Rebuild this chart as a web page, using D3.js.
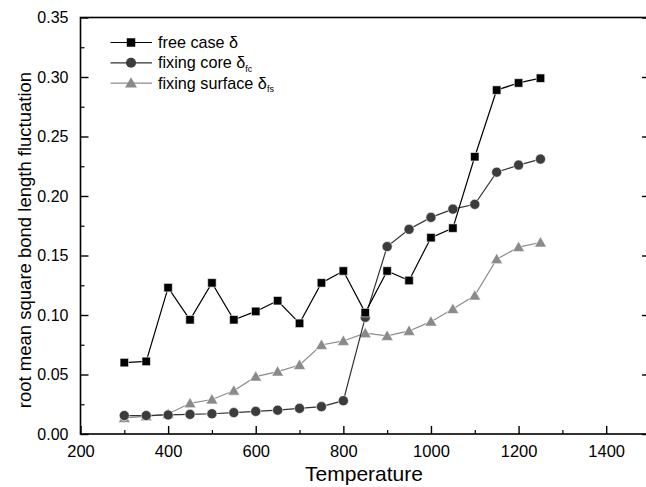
<!DOCTYPE html>
<html><head><meta charset="utf-8">
<script src="https://cdn.jsdelivr.net/npm/d3@7"></script>
<style>body{margin:0;background:#fff}svg{display:block;font-family:"Liberation Sans",Arial,sans-serif}</style>
</head><body><svg id="c" width="646" height="487"></svg>
<script>
const temps = [300,350,400,450,500,550,600,650,700,750,800,850,900,950,1000,1050,1100,1150,1200,1250];
const freeCase = [0.060,0.061,0.123,0.096,0.127,0.096,0.103,0.112,0.093,0.127,0.137,0.102,0.137,0.129,0.165,0.173,0.233,0.289,0.295,0.299];
const fixCore = [0.0155,0.0155,0.016,0.0165,0.017,0.018,0.019,0.020,0.0215,0.023,0.028,0.098,0.1575,0.172,0.182,0.189,0.193,0.220,0.226,0.231];
const fixSurf = [0.0135,0.0148,0.0168,0.0258,0.029,0.0364,0.0482,0.0524,0.058,0.0748,0.0782,0.0847,0.0824,0.0866,0.0944,0.105,0.1163,0.1469,0.157,0.1609];
const xTicks = [200,400,600,800,1000,1200,1400];
const yTicks = [0,0.05,0.10,0.15,0.20,0.25,0.30,0.35];

const svg = d3.select("#c");
const L=80.5, R=650, T=17.5, B=434;
const x = d3.scaleLinear().domain([200,1500]).range([L,R]);
const y = d3.scaleLinear().domain([0,0.35]).range([B,T]);

svg.append("rect").attr("x",L).attr("y",T).attr("width",R-L).attr("height",B-T)
  .attr("fill","none").attr("stroke","#000").attr("stroke-width",1.6);

const xa = svg.append("g").attr("transform",`translate(0,${B})`)
  .call(d3.axisBottom(x).tickValues(xTicks).tickSize(-8).tickPadding(11).tickFormat(d3.format("d")));
xa.select(".domain").remove();
xa.selectAll("line").attr("stroke-width",1.4);
xa.selectAll("text").attr("font-size",16.5).attr("fill","#000");
svg.append("g").attr("transform",`translate(0,${B})`)
  .call(d3.axisBottom(x).tickValues(d3.range(300,1500,200)).tickSize(-4).tickFormat(""))
  .call(g=>g.select(".domain").remove()).selectAll("line").attr("stroke-width",1.2);

const ya = svg.append("g").attr("transform",`translate(${L},0)`)
  .call(d3.axisLeft(y).tickValues(yTicks).tickSize(-8).tickPadding(12).tickFormat(d3.format(".2f")));
ya.select(".domain").remove();
ya.selectAll("line").attr("stroke-width",1.4);
ya.selectAll("text").attr("font-size",16).attr("fill","#000");
svg.append("g").attr("transform",`translate(${L},0)`)
  .call(d3.axisLeft(y).tickValues(d3.range(0.025,0.35,0.05)).tickSize(-4).tickFormat(""))
  .call(g=>g.select(".domain").remove()).selectAll("line").attr("stroke-width",1.2);

svg.append("g").attr("transform",`translate(${R},0)`)
  .call(d3.axisRight(y).tickValues(yTicks).tickSize(-8).tickFormat(""))
  .call(g=>g.select(".domain").remove()).selectAll("line").attr("stroke-width",1.4);
svg.append("g").attr("transform",`translate(${R},0)`)
  .call(d3.axisRight(y).tickValues(d3.range(0.025,0.35,0.05)).tickSize(-4).tickFormat(""))
  .call(g=>g.select(".domain").remove()).selectAll("line").attr("stroke-width",1.2);

svg.append("text").attr("x",364).attr("y",481).attr("text-anchor","middle")
  .attr("font-size",21).text("Temperature");
svg.append("text").attr("transform",`translate(31,240) rotate(-90)`).attr("text-anchor","middle")
  .attr("font-size",18.5).text("root mean square bond length fluctuation");

const series = [
  {name:"free case δ", sub:"", vals:freeCase, line:"#000", fill:"#000", shape:d3.symbolSquare, size:72},
  {name:"fixing core δ", sub:"fc", vals:fixCore, line:"#333", fill:"#3c3c3c", shape:d3.symbolCircle, size:80},
  {name:"fixing surface δ", sub:"fs", vals:fixSurf, line:"#8c8c8c", fill:"#8a8a8a", shape:d3.symbolTriangle, size:62}
];

const line = d3.line().x(d=>x(d[0])).y(d=>y(d[1]));
[2,1,0].forEach(i=>{
  const s = series[i];
  const pts = temps.map((t,j)=>[t,s.vals[j]]);
  svg.append("path").attr("d",line(pts)).attr("fill","none").attr("stroke",s.line).attr("stroke-width",1.2);
  svg.selectAll(null).data(pts).enter().append("path")
    .attr("d",d3.symbol().type(s.shape).size(s.size))
    .attr("transform",d=>`translate(${x(d[0])},${y(d[1])+(s.shape===d3.symbolTriangle?1:0)})`)
    .attr("fill",s.fill).attr("stroke","#fff").attr("stroke-width",0.6);
});

const lg = svg.append("g");
series.forEach((s,i)=>{
  const yy = 42.5 + i*20.3;
  lg.append("line").attr("x1",110.5).attr("x2",152).attr("y1",yy).attr("y2",yy).attr("stroke",s.line).attr("stroke-width",1.2);
  lg.append("path").attr("d",d3.symbol().type(s.shape).size(s.size))
    .attr("transform",`translate(131,${yy+(s.shape===d3.symbolTriangle?1:0)})`).attr("fill",s.fill);
  const t = lg.append("text").attr("x",158).attr("y",yy+5.5).attr("font-size",16.2).text(s.name);
  if(s.sub) t.append("tspan").attr("font-size",9).attr("dy",3.5).text(s.sub);
});
</script></body></html>
